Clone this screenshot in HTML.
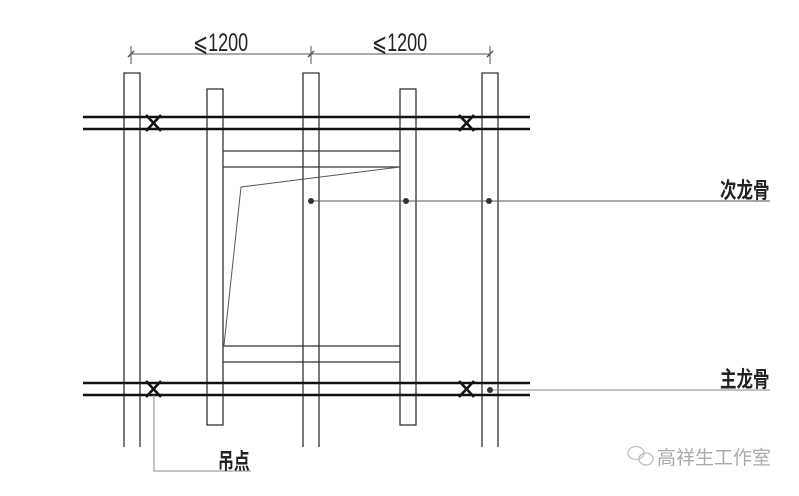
<!DOCTYPE html>
<html><head><meta charset="utf-8"><style>
body{margin:0;background:#fff;width:799px;height:491px;overflow:hidden}
</style></head><body>
<svg width="799" height="491" viewBox="0 0 799 491" xmlns="http://www.w3.org/2000/svg">
<g fill="none" stroke="#333" stroke-width="1.3">
<path d="M124 447V73H140V447M303 447V73H319V447M482 447V73H498V447"/>
<rect x="207" y="89" width="16" height="336"/>
<rect x="400" y="89" width="16" height="336"/>
<path d="M223 151H400M223 167H400M223 346H400M223 362H400"/>
</g>
<g stroke="#111" stroke-width="2.6">
<line x1="83" y1="117" x2="530" y2="117"/><line x1="83" y1="129" x2="530" y2="129"/>
<line x1="83" y1="383" x2="530" y2="383"/><line x1="83" y1="395" x2="530" y2="395"/>
<path d="M146 115L161 131M161 115L146 131M459 115L474 131M474 115L459 131M146 381L161 397M161 381L146 397M459 381L474 397M474 381L459 397"/>
</g>
<g stroke="#555" stroke-width="1" fill="none">
<line x1="131" y1="54" x2="490" y2="54"/>
<line x1="131" y1="46" x2="131" y2="64"/><line x1="311" y1="46" x2="311" y2="64"/><line x1="490" y1="46" x2="490" y2="64"/>
<line x1="128" y1="57" x2="134" y2="51" stroke-width="1.5"/><line x1="308" y1="57" x2="314" y2="51" stroke-width="1.5"/><line x1="487" y1="57" x2="493" y2="51" stroke-width="1.5"/>
<polyline points="400,167 241,187 224,345"/>
<line x1="311" y1="201" x2="770" y2="201"/>
<line x1="490" y1="390" x2="770" y2="390" stroke="#888"/>
<polyline points="154,395 154,471 251,471" stroke="#888"/>
</g>
<g fill="#333"><circle cx="311" cy="201" r="3"/><circle cx="406" cy="201" r="3"/><circle cx="489" cy="201" r="3"/><circle cx="490" cy="390" r="3"/></g>
<g font-family="'Liberation Sans', 'Noto Sans CJK SC', sans-serif" fill="#222">
<text x="193" y="51" font-size="25" transform="translate(193 0) scale(0.72 1) translate(-193 0)">⩽1200</text>
<text x="372" y="51" font-size="25" transform="translate(372 0) scale(0.72 1) translate(-372 0)">⩽1200</text>
<text x="720" y="198" font-size="22" font-weight="bold" transform="translate(720 0) scale(0.75 1) translate(-720 0)">次龙骨</text>
<text x="720" y="387" font-size="22" font-weight="bold" transform="translate(720 0) scale(0.75 1) translate(-720 0)">主龙骨</text>
<text x="218" y="469" font-size="22" font-weight="bold" transform="translate(218 0) scale(0.72 1) translate(-218 0)">吊点</text>
<text x="657" y="464" font-size="19" fill="#aaa">高祥生工作室</text>
</g>
<g fill="none" stroke="#bbb" stroke-width="1.2">
<ellipse cx="636" cy="453" rx="8" ry="6.5"/><ellipse cx="646" cy="459" rx="7" ry="6"/>
</g>
</svg>
</body></html>
